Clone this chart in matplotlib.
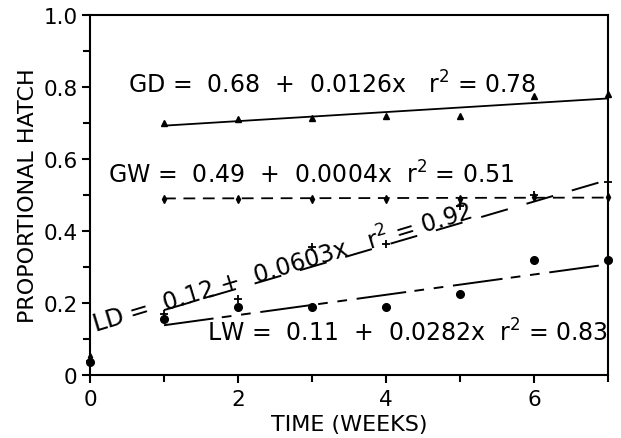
import matplotlib
matplotlib.use("Agg")
import matplotlib.pyplot as plt
from matplotlib.ticker import FixedLocator, FixedFormatter

plt.rcParams['font.family'] = ['DejaVu Sans']
plt.rcParams['mathtext.fontset'] = 'dejavusans'
plt.rcParams['lines.scale_dashes'] = False

# ---- data ----
weeks = [0, 1, 2, 3, 4, 5, 6, 7]
gd_vals = [0.04, 0.70, 0.71, 0.715, 0.72, 0.72, 0.775, 0.78]
gw_vals = [0.05, 0.49, 0.49, 0.49, 0.49, 0.49, 0.495, 0.495]
ld_vals = [0.04, 0.17, 0.21, 0.355, 0.365, 0.47, 0.50, 0.535]
lw_vals = [0.035, 0.155, 0.19, 0.19, 0.19, 0.225, 0.32, 0.32]

fit_x = [1, 7]
gd_fit = (0.68, 0.0126)
gw_fit = (0.49, 0.0004)
ld_fit = (0.12, 0.0603)
lw_fit = (0.11, 0.0282)

gd_label = "GD =  0.68  +  0.0126x   r$^2$ = 0.78"
gw_label = "GW =  0.49  +  0.0004x  r$^2$ = 0.51"
ld_label = "LD =  0.12 +  0.0603x   r$^2$ = 0.92"
lw_label = "LW =  0.11  +  0.0282x  r$^2$ = 0.83"

x_ticks = [0, 2, 4, 6]
x_tick_labels = ["0", "2", "4", "6"]
x_minor = [1, 3, 5, 7]
y_ticks = [0, 0.2, 0.4, 0.6, 0.8, 1.0]
y_tick_labels = ["0", "0.2", "0.4", "0.6", "0.8", "1.0"]
y_minor = [0.1, 0.3, 0.5, 0.7, 0.9]

# ---- figure ----
fig = plt.figure(figsize=(6.21, 4.39), dpi=100)
ax = fig.add_axes([90/621, 63/439, 518/621, 360/439])
ax.set_xlim(0, 7)
ax.set_ylim(0, 1.0)

def fit_line(p):
    return [p[0] + p[1]*x for x in fit_x]

ax.plot(fit_x, fit_line(gd_fit), color='black', lw=1.3, solid_capstyle='butt')
ax.plot(fit_x, fit_line(gw_fit), color='black', lw=1.3, dashes=(8.5, 5.5))
ax.plot(fit_x, fit_line(ld_fit), color='black', lw=1.4, dashes=(20, 14))
ax.plot(fit_x, fit_line(lw_fit), color='black', lw=1.4,
        dashes=(36, 6, 7, 7, 7, 7))

kw = dict(linestyle='none', color='black', clip_on=False, zorder=5)
ax.plot(weeks, gd_vals, marker='^', markersize=5, **kw)
ax.plot(weeks, gw_vals, marker='d', markersize=4, **kw)
ax.plot(weeks, ld_vals, marker='+', markersize=6, markeredgewidth=1.3, **kw)
ax.plot(weeks, lw_vals, marker='o', markersize=5.5, **kw)

fs = 17
ax.text(0.51, 0.785, gd_label, fontsize=fs, ha='left', va='baseline')
ax.text(0.24, 0.535, gw_label, fontsize=fs, ha='left', va='baseline')
ax.text(1.58, 0.095, lw_label, fontsize=fs, ha='left', va='baseline')
ax.text(0.068, 0.118, ld_label, fontsize=fs, ha='left', va='baseline',
        rotation=16.8, rotation_mode='anchor')

ax.xaxis.set_major_locator(FixedLocator(x_ticks))
ax.xaxis.set_major_formatter(FixedFormatter(x_tick_labels))
ax.xaxis.set_minor_locator(FixedLocator(x_minor))
ax.yaxis.set_major_locator(FixedLocator(y_ticks))
ax.yaxis.set_major_formatter(FixedFormatter(y_tick_labels))
ax.yaxis.set_minor_locator(FixedLocator(y_minor))

ax.tick_params(which='both', direction='out', width=1.5, labelsize=15.5,
               top=False, right=False)
ax.tick_params(axis='y', which='major', length=6, pad=3)
ax.tick_params(axis='y', which='minor', length=5)
ax.tick_params(axis='x', which='major', length=6, pad=4)
ax.tick_params(axis='x', which='minor', length=5)
for s in ax.spines.values():
    s.set_linewidth(1.5)

ax.set_xlabel("TIME (WEEKS)", fontsize=16, labelpad=4)
ax.set_ylabel("PROPORTIONAL HATCH", fontsize=16, labelpad=4)

fig.savefig("out.png", dpi=100)
